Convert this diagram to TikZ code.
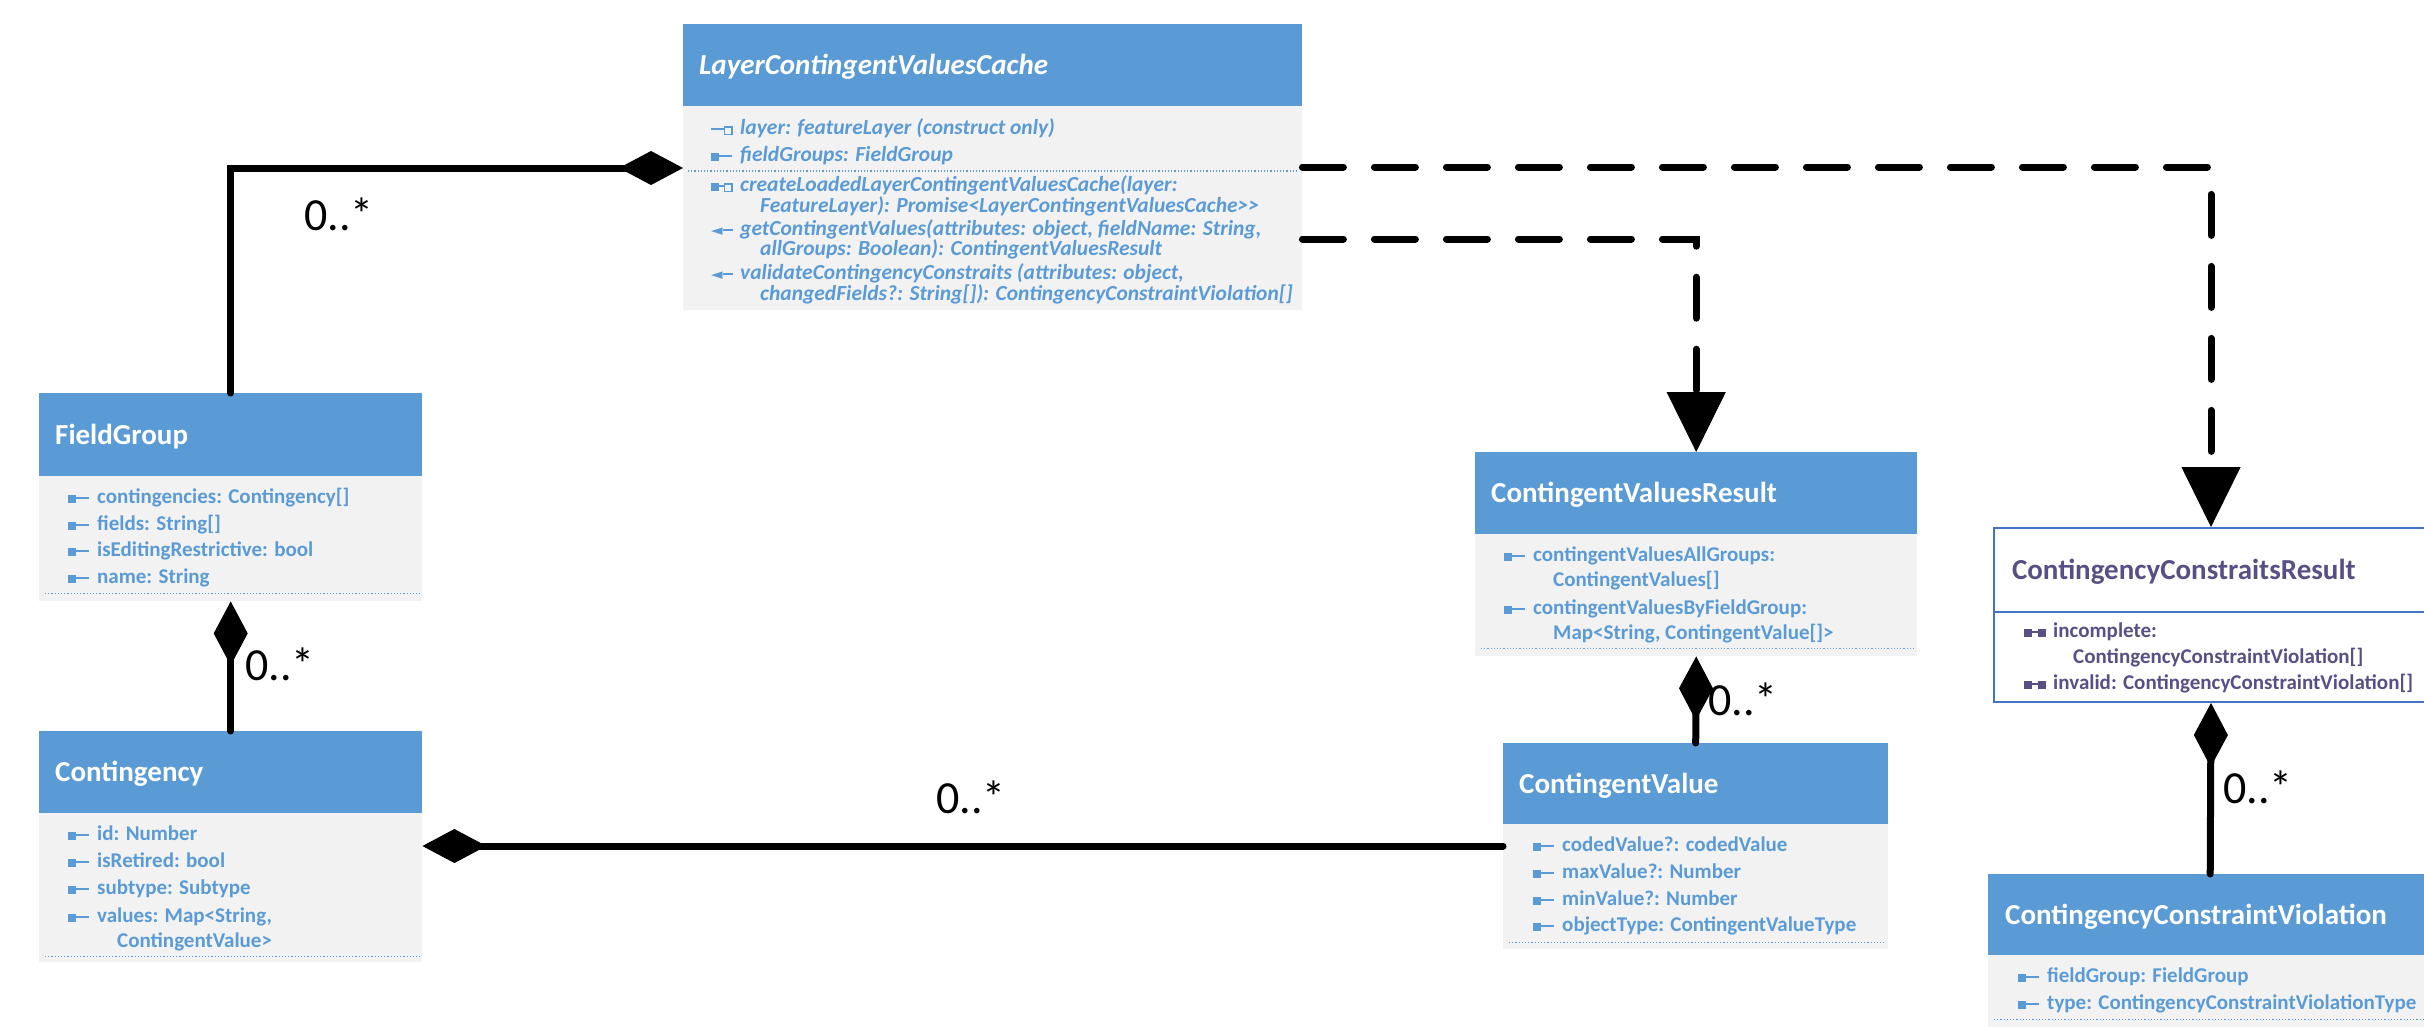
\documentclass[tikz,border=0pt]{standalone}
\usepackage{fontspec}
\setmainfont{Carlito}
\newfontfamily\symfont{DejaVu Sans}
\usetikzlibrary{arrows.meta}
\definecolor{hdrblue}{HTML}{5B9BD5}
\definecolor{bodygray}{HTML}{F2F2F2}
\definecolor{itemblue}{HTML}{5B9BD5}
\definecolor{purp}{HTML}{5A4F85}
\definecolor{ccrborder}{HTML}{4472C4}
\newcommand\sqF{\rule[0.5pt]{8pt}{7.5pt}}
\newcommand\lnH[1]{\rule[4.5pt]{#1}{2pt}}
\newcommand\sqH{\raisebox{0.5pt}{\setlength{\fboxsep}{0pt}\setlength{\fboxrule}{1.2pt}\fbox{\rule{0pt}{6pt}\rule{6pt}{0pt}}}}
\newcommand\icoPub{\makebox[29pt][l]{\sqF\lnH{13pt}}}
\newcommand\icoRO{\makebox[29pt][l]{\lnH{13pt}\sqH}}
\newcommand\icoCreate{\makebox[29pt][l]{\sqF\lnH{5pt}\sqH}}
\newcommand\icoMeth{\makebox[29pt][l]{{\symfont\fontsize{15}{15}\selectfont ◄}\lnH{10pt}}}
\newcommand\icoPriv{\makebox[29pt][l]{\sqF\lnH{6pt}\sqF}}
\tikzset{
  hdr/.style={anchor=north west, fill=hdrblue, text=white, font=\fontsize{29}{29}\selectfont\bfseries, inner xsep=16pt, inner ysep=0pt, align=left, text height=18.7pt, text depth=0pt},
  bodybox/.style={anchor=north west, fill=bodygray, inner sep=0pt},
  item/.style={anchor=base west, inner sep=0pt, text=itemblue, font=\fontsize{21}{21}\selectfont\bfseries},
  itemI/.style={item, font=\fontsize{21.5}{21.5}\selectfont\bfseries\itshape},
  itemP/.style={item, text=purp},
  sepline/.style={draw=itemblue, dotted, line width=1.2pt},
  comp/.style={line width=7pt, line cap=round, -{Diamond[length=64pt,width=34pt,line width=1pt]}},
  dep/.style={line width=7pt, line cap=round, dash pattern=on 41pt off 31pt, -{Triangle[length=60pt,width=59pt,line width=1pt]}},
  mult/.style={anchor=base west, inner sep=0pt, font=\fontsize{46}{46}\selectfont},
}
\begin{document}
\begin{tikzpicture}[x=1pt,y=-1pt]
\useasboundingbox (0,0) rectangle (2424,1026);

% LayerContingentValuesCache
\node[hdr, text width=587pt, minimum height=82pt] (lcH) at (683,24) {\itshape LayerContingentValuesCache};
\node[bodybox, minimum width=619pt, minimum height=204pt] (lcB) at (683,106) {};
\node[itemI] (lc1) at (711,134) {\icoRO layer: featureLayer (construct only)};
\node[itemI] (lc2) at (711,161) {\icoPub fieldGroups: FieldGroup};
\draw[sepline] ([xshift=5pt,yshift=-65pt]lcB.north west) -- ([xshift=-5pt,yshift=-65pt]lcB.north east);
\node[itemI] (lc3) at (711,191) {\icoCreate createLoadedLayerContingentValuesCache(layer:};
\node[itemI] (lc4) at (760,212) {FeatureLayer): Promise<LayerContingentValuesCache>{}>};
\node[itemI] (lc5) at (711,235) {\icoMeth getContingentValues(attributes: object, fieldName: String,};
\node[itemI] (lc6) at (760,255) {allGroups: Boolean): ContingentValuesResult};
\node[itemI] (lc7) at (711,279) {\icoMeth validateContingencyConstraits (attributes: object,};
\node[itemI] (lc8) at (760,300) {changedFields?: String[]): ContingencyConstraintViolation[]};

% FieldGroup
\node[hdr, text width=351pt, minimum height=83pt] (fgH) at (39,393) {FieldGroup};
\node[bodybox, minimum width=383pt, minimum height=125pt] (fgB) at (39,476) {};
\node[item] (fg1) at (68,503) {\icoPub contingencies: Contingency[]};
\node[item] (fg2) at (68,530) {\icoPub fields: String[]};
\node[item] (fg3) at (68,556) {\icoPub isEditingRestrictive: bool};
\node[item] (fg4) at (68,583) {\icoPub name: String};
\draw[sepline] ([xshift=6pt,yshift=8pt]fgB.south west) -- ([xshift=-2pt,yshift=8pt]fgB.south east);

% Contingency
\node[hdr, text width=351pt, minimum height=82pt] (cH) at (39,731) {Contingency};
\node[bodybox, minimum width=383pt, minimum height=149pt] (cB) at (39,813) {};
\node[item] (c1) at (68,840) {\icoPub id: Number};
\node[item] (c2) at (68,867) {\icoPub isRetired: bool};
\node[item] (c3) at (68,894) {\icoPub subtype: Subtype};
\node[item] (c4) at (68,922) {\icoPub values: Map<String,};
\node[item] (c5) at (117,947) {ContingentValue>};
\draw[sepline] ([xshift=6pt,yshift=6pt]cB.south west) -- ([xshift=-2pt,yshift=6pt]cB.south east);

% ContingentValuesResult
\node[hdr, text width=410pt, minimum height=82pt] (cvrH) at (1475,452) {ContingentValuesResult};
\node[bodybox, minimum width=442pt, minimum height=122pt] (cvrB) at (1475,534) {};
\node[item] (cvr1) at (1504,561) {\icoPub contingentValuesAllGroups:};
\node[item] (cvr2) at (1553,586) {ContingentValues[]};
\node[item] (cvr3) at (1504,614) {\icoPub contingentValuesByFieldGroup:};
\node[item] (cvr4) at (1553,639) {Map<String, ContingentValue[]>};
\draw[sepline] ([xshift=6pt,yshift=8pt]cvrB.south west) -- ([xshift=-4pt,yshift=8pt]cvrB.south east);

% ContingentValue
\node[hdr, text width=353pt, minimum height=81pt] (cvH) at (1503,743) {ContingentValue};
\node[bodybox, minimum width=385pt, minimum height=125pt] (cvB) at (1503,824) {};
\node[item] (cv1) at (1533,851) {\icoPub codedValue?: codedValue};
\node[item] (cv2) at (1533,878) {\icoPub maxValue?: Number};
\node[item] (cv3) at (1533,905) {\icoPub minValue?: Number};
\node[item] (cv4) at (1533,931) {\icoPub objectType: ContingentValueType};
\draw[sepline] ([xshift=6pt,yshift=7pt]cvB.south west) -- ([xshift=-4pt,yshift=7pt]cvB.south east);

% ContingencyConstraitsResult
\node[hdr, fill=white, draw=ccrborder, line width=2pt, text=purp, inner xsep=18pt, text width=398pt, minimum height=84pt] (ccrH) at (1993,527) {ContingencyConstraitsResult};
\node[bodybox, fill=white, draw=ccrborder, line width=2pt, minimum width=434pt, minimum height=90pt] (ccrB) at (1993,611) {};
\node[itemP] (ccr1) at (2024,637) {\icoPriv incomplete:};
\node[itemP] (ccr2) at (2073,663) {ContingencyConstraintViolation[]};
\node[itemP] (ccr3) at (2024,689) {\icoPriv invalid: ContingencyConstraintViolation[]};

% ContingencyConstraintViolation
\node[hdr, inner xsep=17pt, text width=410pt, minimum height=81pt] (ccvH) at (1988,874) {ContingencyConstraintViolation};
\node[bodybox, minimum width=444pt, minimum height=73pt] (ccvB) at (1988,955) {};
\node[item] (ccv1) at (2018,982) {\icoPub fieldGroup: FieldGroup};
\node[item] (ccv2) at (2018,1009) {\icoPub type: ContingencyConstraintViolationType};
\draw[sepline] ([xshift=6pt,yshift=9pt]ccvB.south west) -- ([xshift=-2pt,yshift=9pt]ccvB.south east);

% connectors
\draw[comp] (fgH.north) |- ([yshift=-62pt]lcB.north west);
\draw[comp] (cH.north) -- (fgB.south);
\path ([yshift=-22pt]cvB.north west) coordinate (cvIn);
\draw[comp] (cvIn) -- (cvIn -| cB.east);
\draw[comp] (cvH.north) -- (cvrB.south);
\draw[comp] (ccvH.north) -- (ccrB.south);
\draw[dep] ([yshift=-61pt]lcB.north east) -| (ccrH.north);
\draw[dep] ([yshift=-133pt]lcB.north east) -| (cvrH.north);

% multiplicities
\node[mult] (mA) at (304,230) {0..*};
\node[mult] (mB) at (245,680) {0..*};
\node[mult] (mC) at (936,813) {0..*};
\node[mult] (mD) at (1708,715) {0..*};
\node[mult] (mE) at (2223,803) {0..*};
\end{tikzpicture}
\end{document}
